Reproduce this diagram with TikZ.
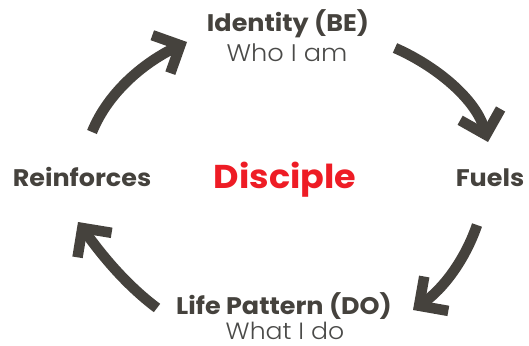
\documentclass[tikz,border=0pt]{standalone}
\usepackage{fontspec}
\setmainfont{Poppins}[BoldFont=* Bold, FakeStretch=1.06]
\newfontfamily\lightfont{Poppins Light}[FakeStretch=1.07]
\usetikzlibrary{arrows.meta}
\definecolor{ink}{HTML}{45423D}
\definecolor{lightink}{HTML}{4A4A48}
\definecolor{discred}{HTML}{EE1C25}
\tikzset{
  title/.style={text=ink, font=\bfseries\fontsize{24}{26}\selectfont, anchor=base, inner sep=0pt},
  sub/.style={text=lightink, font=\lightfont\fontsize{24}{26}\selectfont, anchor=base, inner sep=0pt},
  cyclearrow/.style={draw=ink, line width=10.5pt, line cap=butt,
    -{Straight Barb[length=21pt,width=42pt,line cap=butt,line join=miter]}},
}
\begin{document}
\begin{tikzpicture}[x=1pt,y=-1pt]
\useasboundingbox (0,0) rectangle (529,345);
\node[title] (identity) at (288,32) {Identity (BE)};
\node[sub] (who) at (287,61) {Who I am};
\node[text=discred, font=\bfseries\fontsize{33}{36}\selectfont, anchor=base, inner sep=0pt] (disciple) at (285,188) {Disciple};
\node[title] (reinf) at (82,186) {Reinforces};
\node[title] (fuels) at (490,186) {Fuels};
\node[title] (life) at (284,314) {Life Pattern (DO)};
\node[sub, font=\lightfont\fontsize{23.5}{25}\selectfont] (what) at (285,339.5) {What I do};
\coordinate (a1s) at (92,132);
\coordinate (a1e) at (187,42);
\coordinate (a2s) at (395,48);
\coordinate (a2e) at (488,142);
\coordinate (a3s) at (477,225);
\coordinate (a3e) at (413,310);
\coordinate (a4s) at (157,308);
\coordinate (a4e) at (78,222);
\draw[cyclearrow] (a1s) .. controls (109,90) and (147,61) .. (a1e);
\draw[cyclearrow] (a2s) .. controls (436,66) and (476,99) .. (a2e);
\draw[cyclearrow] (a3s) .. controls (465,260) and (443,289) .. (a3e);
\draw[cyclearrow] (a4s) .. controls (125,284) and (101,254) .. (a4e);
\end{tikzpicture}
\end{document}
